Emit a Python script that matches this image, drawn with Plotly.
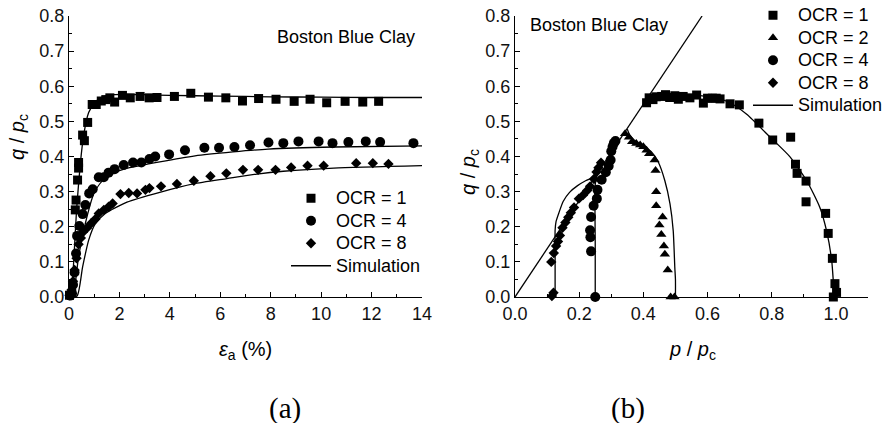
import plotly.graph_objects as go

W, H = 884, 423

# ---------------- (a) stress-strain data ----------------
ea_ocr1 = [0.02,0.25,0.28,0.34,0.38,0.38,0.54,0.61,0.74,0.92,1.08,1.28,1.46,1.62,1.81,2.12,2.43,2.82,3.18,3.49,4.18,4.83,5.53,6.22,6.88,7.52,8.21,8.93,9.56,10.22,10.95,11.65,12.28]
q_ocr1 = [0.005,0.248,0.276,0.333,0.367,0.383,0.461,0.445,0.497,0.548,0.548,0.558,0.562,0.567,0.555,0.574,0.567,0.571,0.567,0.568,0.571,0.58,0.569,0.567,0.558,0.565,0.563,0.557,0.563,0.553,0.557,0.555,0.557]

ea_ocr4 = [0.05,0.12,0.16,0.22,0.28,0.32,0.41,0.54,0.65,0.8,0.94,1.18,1.38,1.57,1.81,2.17,2.54,2.87,3.19,3.42,3.97,4.6,5.37,5.95,6.56,7.18,7.91,8.5,9.1,9.9,10.45,11.08,11.77,12.34,13.66]
q_ocr4 = [0.004,0.01,0.035,0.07,0.124,0.174,0.202,0.236,0.262,0.295,0.307,0.341,0.341,0.354,0.364,0.376,0.383,0.383,0.393,0.4,0.406,0.418,0.425,0.425,0.427,0.432,0.44,0.438,0.443,0.443,0.438,0.441,0.443,0.441,0.438]

ea_ocr8 = [0.02,0.1,0.16,0.22,0.3,0.38,0.47,0.56,0.71,0.88,1.05,1.18,1.38,1.57,1.73,2.04,2.37,2.7,3.03,3.19,3.65,4.28,4.95,5.61,6.24,6.9,7.5,8.19,8.81,9.46,10.1,11.39,12.05,12.67]
q_ocr8 = [0.005,0.02,0.045,0.077,0.11,0.15,0.168,0.185,0.196,0.21,0.222,0.238,0.248,0.257,0.266,0.293,0.296,0.295,0.305,0.31,0.315,0.322,0.331,0.344,0.352,0.362,0.362,0.362,0.369,0.374,0.374,0.381,0.381,0.379]

sim_ea_1 = [0,0.09,0.19,0.3,0.45,0.58,0.78,0.97,1.23,1.76,2.3,3.0,4.0,6.0,8.0,10.0,12.0,14.0]
sim_q_1 = [0,0.01,0.105,0.248,0.38,0.46,0.525,0.548,0.566,0.576,0.577,0.576,0.574,0.572,0.57,0.569,0.568,0.568]
sim_ea_4 = [0,0.12,0.19,0.38,0.65,0.98,1.31,1.84,2.4,3.6,5.0,6.5,7.9,10.5,14.0]
sim_q_4 = [0,0.002,0.01,0.115,0.21,0.293,0.33,0.355,0.368,0.385,0.402,0.413,0.421,0.427,0.43]
sim_ea_8 = [0,0.32,0.54,0.78,1.04,1.44,2.3,3.6,4.93,6.26,7.45,8.5,10.5,14.0]
sim_q_8 = [0,0.003,0.086,0.162,0.208,0.238,0.27,0.298,0.322,0.337,0.35,0.358,0.367,0.374]

# ---------------- (b) stress path data ----------------
p_ocr1 = [0.41,0.418,0.43,0.44,0.457,0.469,0.482,0.498,0.509,0.524,0.545,0.566,0.587,0.6,0.615,0.627,0.639,0.67,0.699,0.76,0.803,0.859,0.874,0.879,0.907,0.907,0.968,0.976,0.989,0.997,1.002,0.992]
qp_ocr1 = [0.553,0.567,0.562,0.57,0.571,0.576,0.568,0.573,0.563,0.571,0.567,0.575,0.552,0.566,0.566,0.566,0.564,0.55,0.547,0.495,0.447,0.455,0.378,0.352,0.33,0.271,0.238,0.181,0.11,0.038,0.013,0.0]

p_ocr2 = [0.343,0.355,0.365,0.378,0.39,0.4,0.41,0.418,0.435,0.438,0.44,0.44,0.46,0.45,0.456,0.464,0.467,0.476,0.485,0.497]
qp_ocr2 = [0.465,0.455,0.442,0.437,0.433,0.428,0.418,0.408,0.39,0.36,0.3,0.26,0.228,0.205,0.178,0.145,0.122,0.077,0.0,0.0]

p_ocr4 = [0.25,0.237,0.235,0.234,0.237,0.245,0.255,0.257,0.27,0.283,0.292,0.298,0.3,0.304,0.308,0.313]
qp_ocr4 = [0.0,0.13,0.17,0.19,0.228,0.26,0.28,0.305,0.334,0.355,0.373,0.39,0.415,0.428,0.438,0.444]

p_ocr8 = [0.115,0.12,0.113,0.121,0.128,0.134,0.14,0.148,0.157,0.166,0.174,0.184,0.199,0.212,0.225,0.234,0.246,0.254,0.26,0.268]
qp_ocr8 = [0.003,0.012,0.1,0.125,0.145,0.158,0.175,0.197,0.212,0.227,0.24,0.255,0.28,0.29,0.303,0.315,0.336,0.356,0.368,0.382]

sim_p_1 = [0.997,0.995,0.987,0.971,0.95,0.909,0.857,0.794,0.722,0.67,0.618,0.56,0.5,0.45,0.42]
sim_qp_1 = [0,0.008,0.103,0.188,0.255,0.331,0.399,0.456,0.52,0.553,0.568,0.575,0.577,0.576,0.575]
sim_p_2 = [0.5,0.5,0.498,0.493,0.483,0.467,0.446,0.424,0.4,0.375,0.358,0.35]
sim_qp_2 = [0,0.05,0.084,0.189,0.265,0.331,0.385,0.414,0.43,0.444,0.46,0.478]
sim_p_4 = [0.25,0.25,0.249,0.25,0.256]
sim_qp_4 = [0,0.15,0.28,0.32,0.35]
sim_p_8 = [0.125,0.125,0.125,0.128,0.137,0.15,0.17,0.195,0.22,0.245,0.255]
sim_qp_8 = [0,0.12,0.19,0.215,0.24,0.272,0.298,0.317,0.331,0.341,0.348]
csl_p = [0, 0.583]
csl_q = [0, 0.8]

FONT = "Liberation Sans, Arial, sans-serif"
SERIF = "Liberation Serif, Times New Roman, serif"
BLACK = "#000000"
LW = 1.3


def px(wx):
    return wx / W


def py(wy):
    return (H - wy) / H


def big(s):
    return '<span style="font-size:18px">' + s + '</span>'


fig = go.Figure()


def mk(x, y, sym, size, name, xa, ya, leg, show=True):
    fig.add_trace(go.Scatter(x=x, y=y, mode="markers", name=big(name), xaxis=xa, yaxis=ya,
                             legend=leg, showlegend=show, cliponaxis=False, hoverinfo="skip",
                             marker=dict(symbol=sym, size=size, color=BLACK, line=dict(width=0))))


def ln(x, y, name, xa, ya, leg, show=False, spline=True):
    fig.add_trace(go.Scatter(x=x, y=y, mode="lines", name=big(name), xaxis=xa, yaxis=ya,
                             legend=leg, showlegend=show, cliponaxis=False, hoverinfo="skip",
                             line=dict(color=BLACK, width=LW, shape="spline" if spline else "linear",
                                       smoothing=0.6)))


# (a)
mk(ea_ocr1, q_ocr1, "square", 9, "OCR = 1", "x", "y", "legend")
mk(ea_ocr4, q_ocr4, "circle", 10, "OCR = 4", "x", "y", "legend")
mk(ea_ocr8, q_ocr8, "diamond", 8, "OCR = 8", "x", "y", "legend")
ln(sim_ea_1, sim_q_1, "Simulation", "x", "y", "legend", show=True)
ln(sim_ea_4, sim_q_4, "Simulation", "x", "y", "legend")
ln(sim_ea_8, sim_q_8, "Simulation", "x", "y", "legend")

# (b)
mk(p_ocr1, qp_ocr1, "square", 9, "OCR = 1", "x2", "y2", "legend2")
mk(p_ocr2, qp_ocr2, "triangle-up", 9, "OCR = 2", "x2", "y2", "legend2")
mk(p_ocr4, qp_ocr4, "circle", 10, "OCR = 4", "x2", "y2", "legend2")
mk(p_ocr8, qp_ocr8, "diamond", 8, "OCR = 8", "x2", "y2", "legend2")
ln(sim_p_1, sim_qp_1, "Simulation", "x2", "y2", "legend2", show=True)
ln(sim_p_2, sim_qp_2, "Simulation", "x2", "y2", "legend2")
ln(sim_p_4, sim_qp_4, "Simulation", "x2", "y2", "legend2")
ln(sim_p_8, sim_qp_8, "Simulation", "x2", "y2", "legend2")
ln(csl_p, csl_q, "CSL", "x2", "y2", "legend2", spline=False)

ydom = [py(297), py(16)]


def ax(dom, rng, dtick, minor, fmt, anchor):
    return dict(domain=dom, range=rng, dtick=dtick, tick0=0, tickformat=fmt, anchor=anchor,
                ticks="inside", ticklen=5, tickwidth=1, tickcolor=BLACK,
                minor=dict(dtick=minor, ticks="inside", ticklen=3, tickwidth=1, tickcolor=BLACK),
                showline=True, linecolor=BLACK, linewidth=1, showgrid=False, zeroline=False,
                automargin=False, ticklabeloverflow="allow",
                tickfont=dict(family=FONT, size=18, color="#111111"), fixedrange=True)


fig.update_layout(
    width=W, height=H, margin=dict(l=0, r=0, t=0, b=0, autoexpand=False),
    paper_bgcolor="white", plot_bgcolor="white",
    font=dict(family=FONT, size=18, color=BLACK),
    xaxis=ax([px(69), px(422)], [0, 14], 2, 1, "d", "y"),
    yaxis=ax(ydom, [0, 0.8], 0.1, 0.05, ".1f", "x"),
    xaxis2=ax([px(515), px(868)], [0, 1.1], 0.2, 0.1, ".1f", "y2"),
    yaxis2=ax(ydom, [0, 0.8], 0.1, 0.05, ".1f", "x2"),
    legend=dict(x=px(286), y=py(182), xanchor="left", yanchor="top", itemwidth=40,
                bgcolor="rgba(0,0,0,0)", font=dict(family=FONT, size=15, color=BLACK)),
    legend2=dict(x=px(748), y=py(-1), xanchor="left", yanchor="top", itemwidth=40,
                 bgcolor="rgba(0,0,0,0)", font=dict(family=FONT, size=15, color=BLACK)),
    showlegend=True,
)

ann = [
    ("Boston Blue Clay", 275, 37, "left", 18, FONT, 0),
    ("Boston Blue Clay", 528, 25, "left", 18, FONT, 0),
    ("<i>ε</i><sub>a</sub> (%)", 245.5, 350, "center", 20, FONT, 0),
    ("<i>p</i> / <i>p</i><sub>c</sub>", 692, 350, "center", 20, FONT, 0),
    ("(a)", 285, 408, "center", 29, SERIF, 0),
    ("(b)", 628, 408, "center", 29, SERIF, 0),
    ("<i>q</i> / <i>p</i><sub>c</sub>", 18, 137, "center", 20, FONT, -90),
    ("<i>q</i> / <i>p</i><sub>c</sub>", 469, 172, "center", 20, FONT, -90),
]
annotations = []
for text, wx, wy, xanc, size, fam, ang in ann:
    annotations.append(dict(text=text, x=px(wx), y=py(wy), xref="paper", yref="paper",
                            xanchor=xanc, yanchor="middle", showarrow=False, textangle=ang,
                            font=dict(family=fam, size=size, color=BLACK)))
fig.update_layout(annotations=annotations)

fig.write_html("out.html", config={"displayModeBar": False, "staticPlot": True},
               post_script="document.body.style.margin='0px';")
